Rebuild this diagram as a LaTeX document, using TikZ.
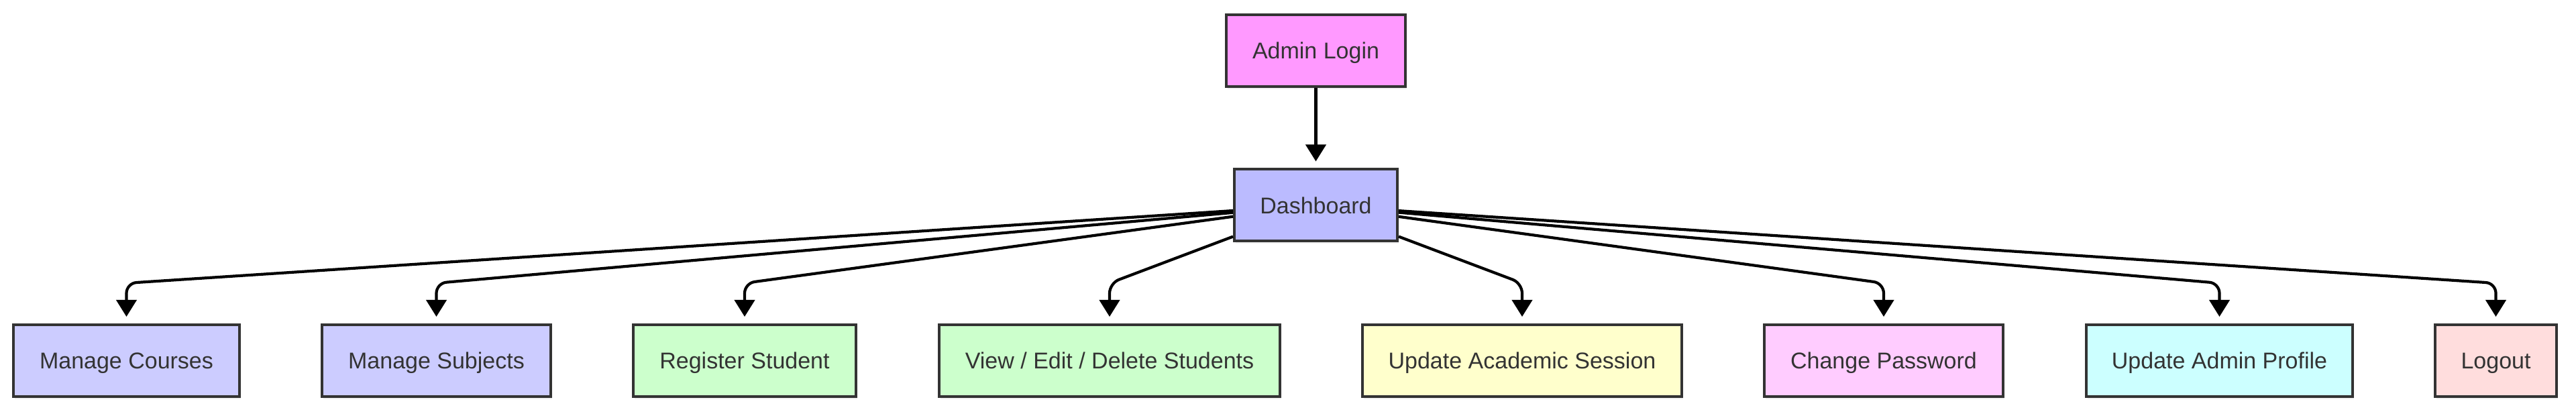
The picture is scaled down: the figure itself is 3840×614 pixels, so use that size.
\documentclass[tikz,border=0pt]{standalone}
\usepackage{fontspec}
\setmainfont{Liberation Sans}
\usetikzlibrary{arrows.meta,shadows}
\definecolor{cborder}{HTML}{333333}
\definecolor{clogin}{HTML}{FF99FF}
\definecolor{cdash}{HTML}{BBBBFF}
\definecolor{cmanage}{HTML}{CCCCFF}
\definecolor{cstudent}{HTML}{CCFFCC}
\definecolor{csession}{HTML}{FFFFCC}
\definecolor{cpass}{HTML}{FFCCFF}
\definecolor{cprofile}{HTML}{CCFFFF}
\definecolor{clogout}{HTML}{FFDDDD}
\begin{document}
\begin{tikzpicture}[x=0.5pt,y=-0.5pt,
  box/.style={draw=cborder, line width=2pt, inner sep=0pt, minimum height=53.5pt,
    text=cborder, font=\fontsize{17pt}{20pt}\selectfont,
    text height=12.2pt, text depth=0pt,
    drop shadow={opacity=0.12, shadow xshift=1pt, shadow yshift=-2pt}},
  edge/.style={draw=black, line width=2.1pt, rounded corners=7.5pt,
    -{Triangle[length=12.5pt,width=15pt]}, shorten >=5pt}]
\useasboundingbox (0,0) rectangle (3840,614);
\node[box, fill=clogin, minimum width=133.5pt] (login) at (1961.5,75.5) {Admin Login};
\node[box, fill=cdash, minimum width=121.5pt] (dash) at (1961.5,306) {Dashboard};
\node[box, fill=cmanage, minimum width=168.5pt] (mc) at (188.5,537.5) {Manage Courses};
\node[box, fill=cmanage, minimum width=170.5pt] (ms) at (650.5,537.5) {Manage Subjects};
\node[box, fill=cstudent, minimum width=166pt] (rs) at (1110,537.5) {Register Student};
\node[box, fill=cstudent, minimum width=254pt] (ved) at (1654,537.5) {View / Edit / Delete Students};
\node[box, fill=csession, minimum width=238pt] (uas) at (2269,537.5) {Update Academic Session};
\node[box, fill=cpass, minimum width=178pt] (cp) at (2808,537.5) {Change Password};
\node[box, fill=cprofile, minimum width=198.5pt] (uap) at (3308.5,537.5) {Update Admin Profile};
\node[box, fill=clogout, minimum width=90.5pt] (lo) at (3720.5,537.5) {Logout};
\coordinate (w1) at (188.5,422);
\coordinate (w2) at (650.5,422);
\coordinate (w3) at (1110,422);
\coordinate (w4) at (1654,422);
\coordinate (w5) at (2269,422);
\coordinate (w6) at (2808,422);
\coordinate (w7) at (3308.5,422);
\coordinate (w8) at (3720.5,422);
\draw[edge] (login) -- (dash);
\draw[edge] (dash) -- (w1) -- (mc);
\draw[edge] (dash) -- (w2) -- (ms);
\draw[edge] (dash) -- (w3) -- (rs);
\draw[edge] (dash) -- (w4) -- (ved);
\draw[edge] (dash) -- (w5) -- (uas);
\draw[edge] (dash) -- (w6) -- (cp);
\draw[edge] (dash) -- (w7) -- (uap);
\draw[edge] (dash) -- (w8) -- (lo);
\end{tikzpicture}
\end{document}
